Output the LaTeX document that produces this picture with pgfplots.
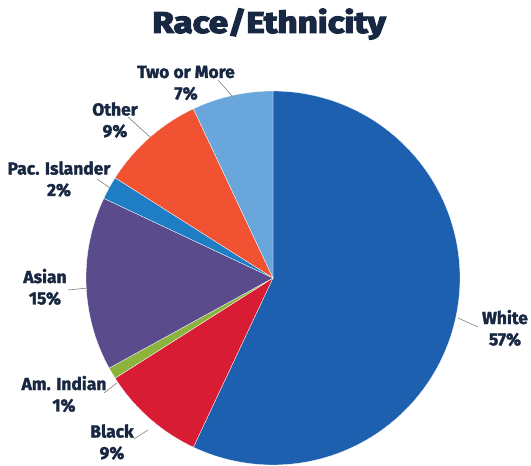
\documentclass[border=0pt]{standalone}
\usepackage{fontspec}
\usepackage{graphicx}
\setmainfont{Fira Sans}
\newfontfamily\titlefont[BoldFeatures={FakeBold=4}]{Fira Sans}
\newfontfamily\labfont[BoldFeatures={FakeBold=1.8}]{Fira Sans}
\usepackage{pgfplots}
\pgfplotsset{compat=1.18}
\definecolor{cWhite}{RGB}{30,96,176}
\definecolor{cBlack}{RGB}{215,28,52}
\definecolor{cAmInd}{RGB}{140,180,60}
\definecolor{cAsian}{RGB}{90,76,140}
\definecolor{cPac}{RGB}{30,125,195}
\definecolor{cOther}{RGB}{240,82,50}
\definecolor{cTwo}{RGB}{104,166,220}
\definecolor{navy}{RGB}{25,40,66}
\begin{document}
\begin{tikzpicture}
\begin{axis}[hide axis, scale only axis, width=531bp, height=466bp,
  xmin=0, xmax=531, ymin=0, ymax=466, clip=false]
\path (rel axis cs:0,0) rectangle (rel axis cs:1,1);
% slices: White 57, Black 9, Am. Indian 1, Asian 15, Pac. Islander 2, Other 9, Two or More 7 (clockwise from top)
\addplot[fill=cWhite, draw=white, line width=0.3pt, domain=-115.2:90, samples=120, variable=\t] ({273+187*cos(\t)},{188+187*sin(\t)}) -- (273,188) -- cycle;
\addplot[fill=cBlack, draw=white, line width=0.3pt, domain=-147.6:-115.2, samples=30, variable=\t] ({273+187*cos(\t)},{188+187*sin(\t)}) -- (273,188) -- cycle;
\addplot[fill=cAmInd, draw=white, line width=0.3pt, domain=-151.2:-147.6, samples=8, variable=\t] ({273+187*cos(\t)},{188+187*sin(\t)}) -- (273,188) -- cycle;
\addplot[fill=cAsian, draw=white, line width=0.3pt, domain=-205.2:-151.2, samples=40, variable=\t] ({273+187*cos(\t)},{188+187*sin(\t)}) -- (273,188) -- cycle;
\addplot[fill=cPac, draw=white, line width=0.3pt, domain=-212.4:-205.2, samples=10, variable=\t] ({273+187*cos(\t)},{188+187*sin(\t)}) -- (273,188) -- cycle;
\addplot[fill=cOther, draw=white, line width=0.3pt, domain=-244.8:-212.4, samples=30, variable=\t] ({273+187*cos(\t)},{188+187*sin(\t)}) -- (273,188) -- cycle;
\addplot[fill=cTwo, draw=white, line width=0.3pt, domain=-270:-244.8, samples=25, variable=\t] ({273+187*cos(\t)},{188+187*sin(\t)}) -- (273,188) -- cycle;
% leader lines
\addplot[gray, line width=0.6pt] coordinates {(218,386) (233,369)};
\addplot[gray, line width=0.6pt] coordinates {(128,349) (150,329)};
\addplot[gray, line width=0.6pt] coordinates {(97,287) (110,278)};
\addplot[gray, line width=0.6pt] coordinates {(68,176) (88,178)};
\addplot[gray, line width=0.6pt] coordinates {(104,73) (117,83)};
\addplot[gray, line width=0.6pt] coordinates {(134,27) (148,36)};
\addplot[gray, line width=0.6pt] coordinates {(458,148) (478,139)};
% labels
\tikzset{lab/.style={font=\labfont\bfseries\fontsize{17.5}{21.5}\selectfont, text=navy, align=center, inner sep=0pt}}
\node[lab] at (186,383) {Two or More\\7\%};
\node[lab] at (115,346) {Other\\9\%};
\node[lab] at (59,287) {Pac. Islander\\2\%};
\node[lab] at (45,179) {Asian\\15\%};
\node[lab] at (64,72) {Am. Indian\\1\%};
\node[lab] at (112,24) {Black\\9\%};
\node[lab] at (505,138) {White\\57\%};
\node[font=\titlefont\bfseries\fontsize{30}{32}\selectfont, text=navy, inner sep=0pt] at (269,442) {\scalebox{1.17}[1]{Race/Ethnicity}};
\end{axis}
\end{tikzpicture}
\end{document}
